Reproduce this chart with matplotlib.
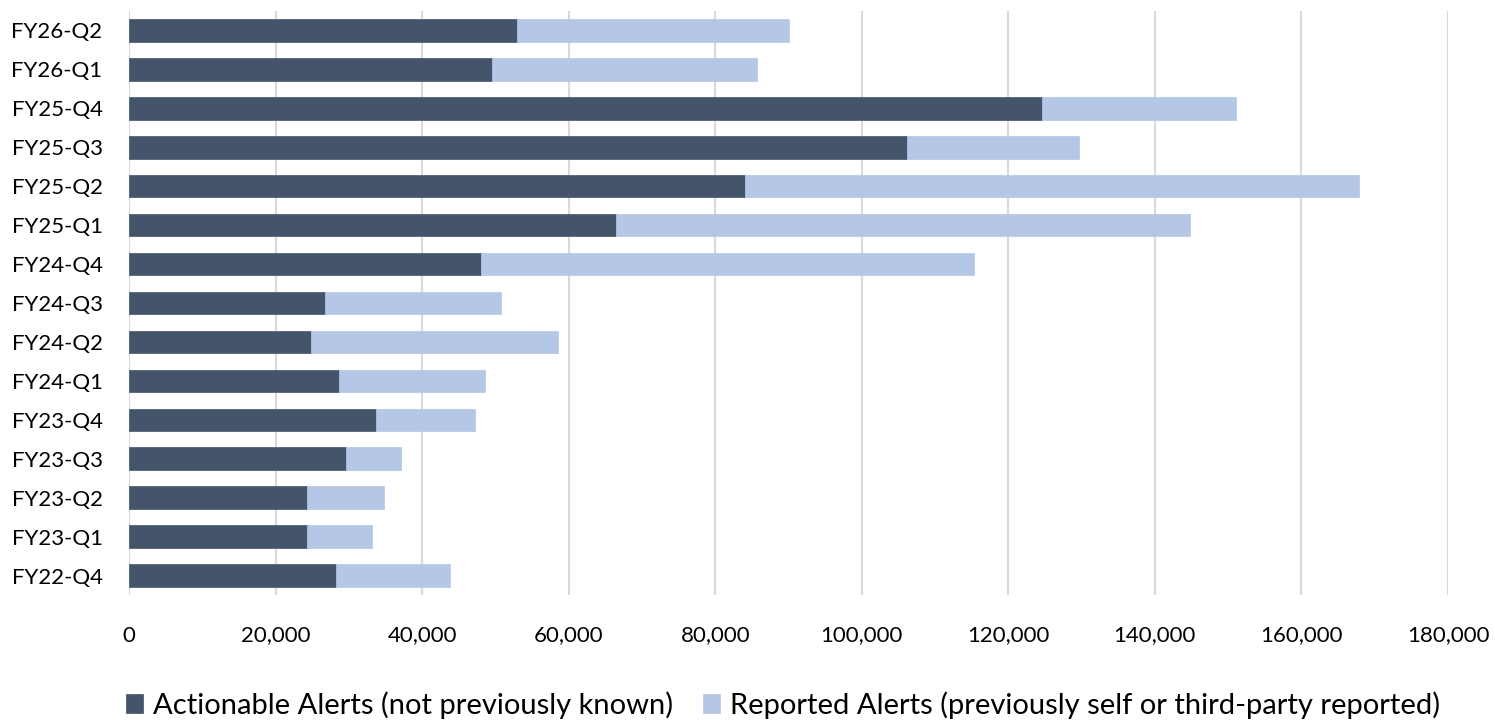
import matplotlib.pyplot as plt
from matplotlib.ticker import FuncFormatter

quarters = ['FY22-Q4', 'FY23-Q1', 'FY23-Q2', 'FY23-Q3', 'FY23-Q4',
            'FY24-Q1', 'FY24-Q2', 'FY24-Q3', 'FY24-Q4',
            'FY25-Q1', 'FY25-Q2', 'FY25-Q3', 'FY25-Q4',
            'FY26-Q1', 'FY26-Q2']
actionable = [28200, 24300, 24300, 29600, 33700,
              28700, 24900, 26800, 48000,
              66400, 84000, 106200, 124600,
              49600, 53000]
reported = [15600, 8800, 10500, 7500, 13500,
            19900, 33700, 23900, 67300,
            78400, 83900, 23500, 26500,
            36100, 37100]

plt.rcParams['font.family'] = ['Lato', 'DejaVu Sans']

fig = plt.figure(figsize=(14.95, 7.21), dpi=100)
ax = fig.add_axes([129/1495, 1 - 595/721, (1448-129)/1495, (595-11)/721])

y = range(len(quarters))
ax.barh(y, actionable, height=0.58, color='#44546A', edgecolor='#44546A', linewidth=0.5,
        label='Actionable Alerts (not previously known)', zorder=3)
ax.barh(y, reported, left=actionable, height=0.58, color='#B4C7E7', edgecolor='#B4C7E7', linewidth=0.5,
        label='Reported Alerts (previously self or third-party reported)', zorder=3)

ax.set_xlim(0, 180000)
ax.set_ylim(-0.5, len(quarters) - 0.5)
ax.set_xticks(range(0, 180001, 20000))
ax.xaxis.set_major_formatter(FuncFormatter(lambda v, p: f'{int(v):,}'))
ax.set_yticks(list(y))
ax.set_yticklabels(quarters)
ax.tick_params(axis='both', length=0, labelsize=16, colors='#000000')
ax.tick_params(axis='x', pad=22)
ax.tick_params(axis='y', pad=19)
ax.grid(axis='x', color='#D9D9D9', linewidth=1.5, zorder=0)
for s in ax.spines.values():
    s.set_visible(False)

fig.legend(*ax.get_legend_handles_labels(), loc='center',
           bbox_to_anchor=(783/1495, 1 - 705/721), ncol=2, frameon=False,
           fontsize=21, handlelength=0.6, handleheight=0.6, handletextpad=0.35,
           columnspacing=1.0, borderaxespad=0, borderpad=0)

fig.savefig('out.png', dpi=100)
